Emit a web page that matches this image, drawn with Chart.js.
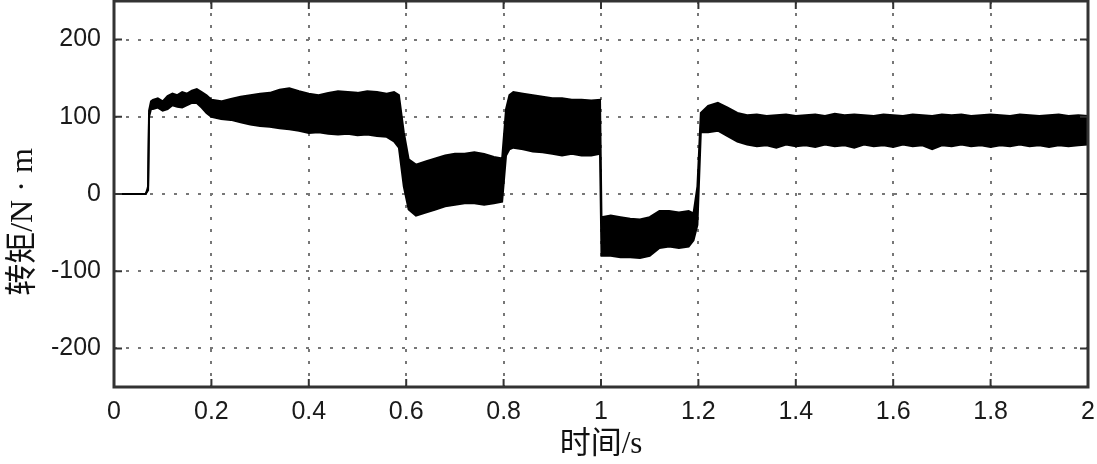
<!DOCTYPE html>
<html>
<head>
<meta charset="utf-8">
<script src="https://cdn.jsdelivr.net/npm/chart.js@4"></script>
<style>
  body { margin: 0; background: #fff; }
  #wrap { width: 1097px; height: 464px; }
</style>
</head>
<body>
<div id="wrap"><canvas id="torque" width="1097" height="464"></canvas></div>
<script>
// time / s
const times = [
  0, 0.065, 0.068, 0.070, 0.072, 0.076, 0.08, 0.09, 0.10, 0.11, 0.12, 0.13, 0.14, 0.15, 0.16, 0.17, 0.18, 0.19,
  0.20, 0.22, 0.24, 0.26, 0.28, 0.30, 0.32, 0.34, 0.36, 0.38, 0.40, 0.42, 0.44, 0.46, 0.48, 0.50, 0.52, 0.54, 0.56,
  0.575, 0.585, 0.595, 0.605, 0.62, 0.64, 0.66, 0.68, 0.70, 0.72, 0.74, 0.76, 0.78, 0.797,
  0.805, 0.812, 0.82, 0.84, 0.86, 0.88, 0.90, 0.92, 0.94, 0.96, 0.98, 0.998,
  1.001, 1.02, 1.04, 1.06, 1.08, 1.10, 1.12, 1.14, 1.16, 1.18, 1.19, 1.198,
  1.205, 1.22, 1.24, 1.26, 1.28, 1.30, 1.32, 1.34, 1.36, 1.38, 1.40, 1.42, 1.44, 1.46, 1.48, 1.50,
  1.52, 1.54, 1.56, 1.58, 1.60, 1.62, 1.64, 1.66, 1.68, 1.70, 1.72, 1.74, 1.76, 1.78, 1.80,
  1.82, 1.84, 1.86, 1.88, 1.90, 1.92, 1.94, 1.96, 1.98, 2.00
];
// upper edge of the torque ripple band, N·m
const upper = [
  0, 0, 5, 10, 108, 120, 122, 124, 120, 127, 130, 128, 132, 130, 134, 136, 132, 128,
  122, 120, 123, 126, 128, 130, 131, 135, 137, 133, 130, 128, 131, 133, 132, 131, 133, 132, 130,
  132, 128, 80, 45, 38, 42, 46, 50, 52, 52, 54, 52, 48, 46,
  110, 128, 132, 130, 128, 126, 124, 124, 122, 122, 121, 122,
  -30, -28, -30, -32, -33, -30, -22, -22, -24, -22, -25, 10,
  105, 114, 118, 112, 105, 102, 103, 101, 102, 103, 101, 102, 103, 101, 104, 102,
  103, 102, 101, 103, 102, 101, 103, 102, 101, 103, 102, 103, 101, 102, 103,
  102, 101, 103, 102, 101, 102, 103, 101, 102, 101
];
// lower edge of the torque ripple band, N·m
const lower = [
  0, 0, 3, 5, 100, 110, 110, 112, 108, 110, 115, 113, 112, 115, 118, 118, 112, 105,
  100, 97, 96, 93, 90, 88, 87, 85, 84, 82, 79, 80, 78, 77, 78, 76, 77, 75, 74,
  68, 60, 10, -20, -28, -24, -20, -16, -14, -12, -12, -14, -12, -10,
  50, 58, 60, 58, 55, 54, 52, 50, 52, 50, 50, 52,
  -80, -80, -82, -82, -83, -80, -70, -68, -70, -68, -60, -40,
  80, 80, 82, 75, 68, 64, 62, 63, 60, 64, 62, 63, 61, 64, 62, 63,
  60, 64, 62, 63, 61, 64, 62, 63, 58, 63, 62, 64, 62, 63, 61,
  63, 62, 64, 62, 63, 61, 63, 62, 63, 64
];
const xTicks = [0, 0.2, 0.4, 0.6, 0.8, 1, 1.2, 1.4, 1.6, 1.8, 2];
const yTicks = [-200, -100, 0, 100, 200];

// frame and inner tick marks, matlab style
const framePlugin = {
  id: 'frame',
  afterDatasetsDraw(chart) {
    const ctx = chart.ctx;
    const a = chart.chartArea;
    const xs = chart.scales.x, ys = chart.scales.y;
    ctx.save();
    ctx.strokeStyle = '#333';
    ctx.lineWidth = 2;
    xTicks.forEach(v => {
      const px = xs.getPixelForValue(v);
      ctx.beginPath();
      ctx.moveTo(px, a.top); ctx.lineTo(px, a.top + 8);
      ctx.moveTo(px, a.bottom); ctx.lineTo(px, a.bottom - 8);
      ctx.stroke();
    });
    yTicks.forEach(v => {
      const py = ys.getPixelForValue(v);
      ctx.beginPath();
      ctx.moveTo(a.left, py); ctx.lineTo(a.left + 8, py);
      ctx.moveTo(a.right, py); ctx.lineTo(a.right - 8, py);
      ctx.stroke();
    });
    ctx.lineWidth = 3;
    ctx.strokeRect(a.left, a.top, a.right - a.left, a.bottom - a.top);
    ctx.restore();
  }
};

const ctx = document.getElementById('torque').getContext('2d');
const chart = new Chart(ctx, {
  type: 'line',
  data: {
    datasets: [
      {
        label: 'upper',
        data: times.map((t, i) => ({x: t, y: upper[i]})),
        borderColor: '#000',
        backgroundColor: '#000',
        borderWidth: 2,
        pointRadius: 0,
        tension: 0,
        fill: '+1'
      },
      {
        label: 'lower',
        data: times.map((t, i) => ({x: t, y: lower[i]})),
        borderColor: '#000',
        backgroundColor: '#000',
        borderWidth: 2,
        pointRadius: 0,
        tension: 0,
        fill: false
      }
    ]
  },
  options: {
    responsive: false,
    animation: false,
    layout: { padding: { top: 1, right: 9, left: 0, bottom: 0 } },
    plugins: {
      legend: { display: false },
      tooltip: { enabled: false }
    },
    scales: {
      x: {
        type: 'linear',
        min: 0,
        max: 2,
        afterBuildTicks: axis => { axis.ticks = xTicks.map(v => ({value: v})); },
        afterFit: axis => { axis.height = 77; axis.paddingLeft = 0; axis.paddingRight = 0; },
        grid: {
          color: '#777',
          lineWidth: 2,
          borderDash: [3, 9],
          drawTicks: false
        },
        border: { display: false, dash: [3, 9] },
        ticks: {
          padding: 10,
          color: '#1a1a1a',
          font: { family: "'Liberation Sans', Arial, sans-serif", size: 25 },
          callback: v => String(Number(v.toFixed(1)))
        },
        title: {
          display: true,
          text: '时间/s',
          color: '#111',
          padding: { top: 0, bottom: 1 },
          font: { family: "'Liberation Serif', 'Noto Sans CJK SC', serif", size: 31 }
        }
      },
      y: {
        min: -250,
        max: 250,
        afterBuildTicks: axis => { axis.ticks = yTicks.map(v => ({value: v})); },
        afterFit: axis => { axis.width = 114; axis.paddingTop = 0; axis.paddingBottom = 0; },
        grid: {
          color: '#777',
          lineWidth: 2,
          borderDash: [3, 9],
          drawTicks: false
        },
        border: { display: false, dash: [3, 9] },
        ticks: {
          padding: 13,
          color: '#1a1a1a',
          font: { family: "'Liberation Sans', Arial, sans-serif", size: 25 }
        },
        title: {
          display: true,
          // trailing spaces push the label down like the original
          text: '转矩/N · m\u00a0\u00a0\u00a0\u00a0\u00a0\u00a0\u00a0',
          color: '#111',
          padding: { top: 4, bottom: 0 },
          font: { family: "'Liberation Serif', 'Noto Sans CJK SC', serif", size: 32 }
        }
      }
    }
  },
  plugins: [framePlugin]
});
</script>
</body>
</html>
